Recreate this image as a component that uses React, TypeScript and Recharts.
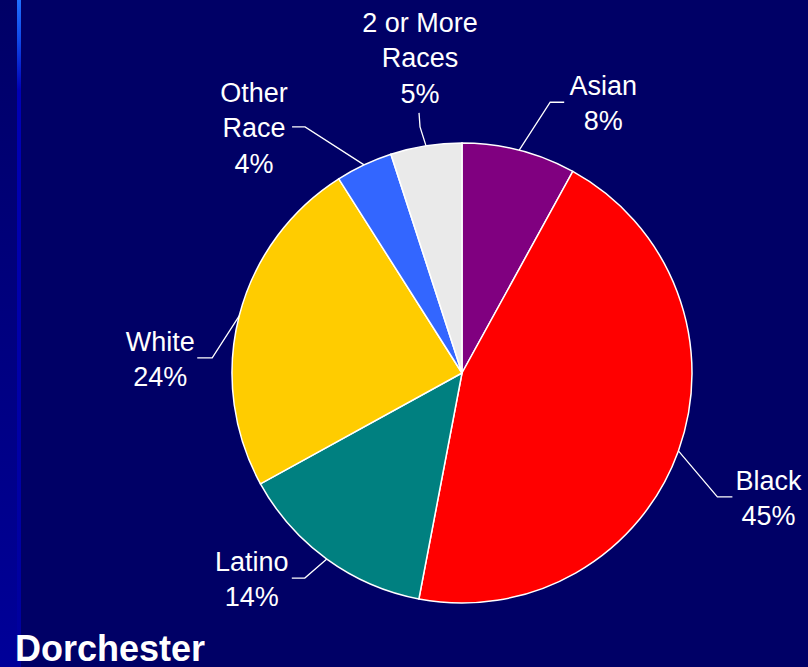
/** Dorchester race / ethnicity pie: clockwise from 12 o'clock, Excel-style
 * elbow leader lines and two-line labels, on a navy slide background. */

import { Cell, Pie, PieChart } from "recharts";

const categories = ["Asian", "Black", "Latino", "White", "Other\nRace", "2 or More\nRaces"];
const shares = [8, 45, 14, 24, 4, 5];
const sliceColors = ["#800080", "#FF0000", "#008080", "#FFCC00", "#3366FF", "#EAEAEA"];
const title = "Dorchester";

const data = categories.map((name, i) => ({ name, value: shares[i] }));

// leader-line shape per slice: elbow offset from the rim, second segment, text offset
const LABEL_LAYOUT = [
  { ex: 31, ey: -48, hx: 14, hy: 0, tx: 39, ty: 0 },
  { ex: 39, ey: 46, hx: 15, hy: 0, tx: 36, ty: 0 },
  { ex: -22, ey: 19, hx: -13, hy: 0, tx: -40, ty: 0 },
  { ex: -27, ey: 42, hx: -15, hy: 0, tx: -37, ty: 0 },
  { ex: -59, ey: -38, hx: -13, hy: 0, tx: -38, ty: 0 },
  { ex: -6, ey: -19, hx: -1, hy: -14, tx: 1, ty: -56 },
];

const RAD = Math.PI / 180;
const LINE_HEIGHT = 35.5;
const FONT = "'Liberation Sans', Arial, sans-serif";

function SliceLabel(props: any) {
  const { cx, cy, midAngle, outerRadius, index, name, value } = props;
  const layout = LABEL_LAYOUT[index];
  const sx = cx + outerRadius * Math.cos(-midAngle * RAD);
  const sy = cy + outerRadius * Math.sin(-midAngle * RAD);
  const mx = sx + layout.ex;
  const my = sy + layout.ey;
  const endX = mx + layout.hx;
  const endY = my + layout.hy;
  const textX = endX + layout.tx;
  const textY = endY + layout.ty + 1.5; // glyph centre sits a touch below the em-box centre
  const lines = [...String(name).split("\n"), `${value}%`];
  return (
    <g>
      <polyline
        points={`${sx},${sy} ${mx},${my} ${endX},${endY}`}
        fill="none"
        stroke="#ffffff"
        strokeWidth={1.3}
      />
      <text
        x={textX}
        y={textY}
        fill="#ffffff"
        fontSize={27}
        fontFamily={FONT}
        textAnchor="middle"
      >
        {lines.map((line, i) => (
          <tspan
            key={i}
            x={textX}
            y={textY + (i - (lines.length - 1) / 2) * LINE_HEIGHT}
            dominantBaseline="central"
          >
            {line}
          </tspan>
        ))}
      </text>
    </g>
  );
}

export default function App() {
  return (
    <div
      style={{
        position: "absolute",
        left: 0,
        top: 0,
        width: 808,
        height: 667,
        overflow: "hidden",
        background: "#000066",
      }}
    >
      <div
        style={{
          position: "absolute",
          left: 0,
          top: 0,
          width: 21,
          height: 667,
          background: "linear-gradient(to bottom, #000066 0%, #000099 100%)",
        }}
      />
      <div
        style={{
          position: "absolute",
          left: 17,
          top: 0,
          width: 4,
          height: 667,
          background:
            "linear-gradient(to bottom, #2070ff 0px, #1048e8 40px, #0000b4 90px, #00009c 667px)",
        }}
      />
      <PieChart
        width={808}
        height={667}
        margin={{ top: 0, right: 0, bottom: 0, left: 0 }}
        style={{ position: "absolute", left: 0, top: 0 }}
      >
        <Pie
          data={data}
          dataKey="value"
          nameKey="name"
          cx={462}
          cy={373}
          outerRadius={230}
          startAngle={90}
          endAngle={-270}
          stroke="#ffffff"
          strokeWidth={1.5}
          labelLine={false}
          label={SliceLabel}
          isAnimationActive={false}
        >
          {data.map((d, i) => (
            <Cell key={d.name} fill={sliceColors[i]} />
          ))}
        </Pie>
      </PieChart>
      <div
        style={{
          position: "absolute",
          left: 15,
          top: 634,
          fontFamily: FONT,
          fontWeight: "bold",
          fontSize: 36,
          lineHeight: "30px",
          color: "#ffffff",
          whiteSpace: "nowrap",
        }}
      >
        {title}
      </div>
    </div>
  );
}
